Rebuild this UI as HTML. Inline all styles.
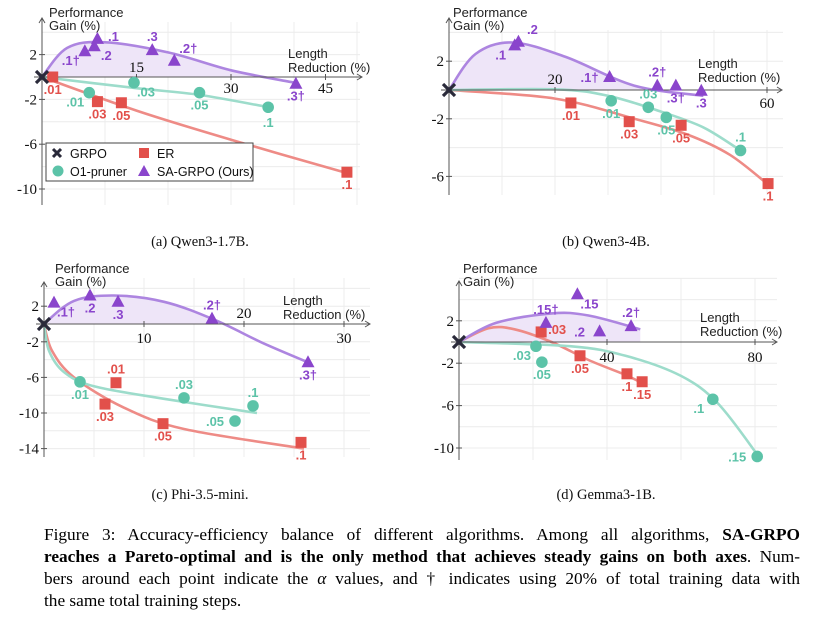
<!DOCTYPE html>
<html><head><meta charset="utf-8">
<style>
html,body{margin:0;padding:0;background:#fff;width:813px;height:621px;overflow:hidden}
svg text{font-family:"Liberation Sans",sans-serif}
.cap{position:absolute;left:44px;width:756px;font-family:"Liberation Serif",serif;font-size:17.3px;line-height:22px;text-align:justify;text-align-last:justify;white-space:nowrap}
</style></head><body>
<svg id="fig" width="813" height="621" style="position:absolute;left:0;top:0"></svg>
<div class="cap" style="top:524px">Figure 3: Accuracy-efficiency balance of different algorithms. Among all algorithms, <b>SA-GRPO</b></div>
<div class="cap" style="top:546px"><b>reaches a Pareto-optimal and is the only method that achieves steady gains on both axes</b>. Num-</div>
<div class="cap" style="top:568px">bers around each point indicate the <i>α</i> values, and † indicates using 20% of total training data with</div>
<div class="cap" style="top:590px;text-align-last:left">the same total training steps.</div>
<script>
// ---------- Panel A: Qwen3-1.7B ----------
const aErX=[1.7,8.8,12.6,48.4], aErY=[0,-2.2,-2.3,-8.5], aErL=[".01",".03",".05",".1"], aErP=["b","b","b","b"];
const aO1X=[7.5,14.6,25,35.9], aO1Y=[-1.4,-0.5,-1.4,-2.7], aO1L=[".01",".03",".05",".1"], aO1P=["bl","br","b","b2"];
const aSaX=[6.8,8.3,8.8,17.5,21,40.3], aSaY=[2.3,2.75,3.4,2.4,1.45,-0.6], aSaL=[".1†",".2",".1",".3",".2†",".3†"], aSaP=["bl","br","r","t","tr","b"];
const aSaCX=[0,4,10,20,30,40], aSaCY=[0,2.6,3.1,2.2,0.6,-0.5];
const aErCX=[0,15,30,48.5], aErCY=[0,-3,-5.6,-8.6];
const aO1CX=[0,15,25,36], aO1CY=[0,-1,-1.6,-2.7];
const aXT=[15,30,45], aYT=[2,-2,-6,-10];
// ---------- Panel B: Qwen3-4B ----------
const bErX=[23,34,43.8,60.2], bErY=[-0.9,-2.2,-2.45,-6.5], bErL=[".01",".03",".05",".1"], bErP=["b","b","b","b"];
const bO1X=[30.6,37.6,41,55], bO1Y=[-0.75,-1.2,-1.9,-4.2], bO1L=[".01",".03",".05",".1"], bO1P=["b","t","b","t"];
const bSaX=[12.4,13.1,30.3,39.3,42.8,47.6], bSaY=[3.1,3.35,0.9,0.3,0.3,-0.05], bSaL=[".1",".2",".1†",".2†",".3†",".3"], bSaP=["bl","tr","l","t","b","b"];
const bSaCX=[0,5,12,22,35,48], bSaCY=[0,2.5,3.3,2.3,0.3,-0.4];
const bErCX=[0,20,35,45,53,60], bErCY=[0,-0.6,-2,-3.1,-4.5,-6.5];
const bO1CX=[0,20,30,40,48,55], bO1CY=[0,0.05,-0.4,-1.5,-2.6,-4.2];
const bXT=[20,60], bYT=[2,-2,-6];
// ---------- Panel C: Phi-3.5-mini ----------
const cErX=[7.2,6.1,11.9,25.7], cErY=[-6.6,-9,-11.2,-13.3], cErL=[".01",".03",".05",".1"], cErP=["t","b","b","b"];
const cO1X=[3.6,14,19.1,20.9], cO1Y=[-6.5,-8.3,-10.9,-9.2], cO1L=[".01",".03",".05",".1"], cO1P=["b","t","l","t"];
const cSaX=[1,4.6,7.4,16.8,26.4], cSaY=[2.4,3.2,2.5,0.6,-4.3], cSaL=[".1†",".2",".3",".2†",".3†"], cSaP=["br","b","b","t","b"];
const cSaCX=[0,3,7,12,17,22,26.6], cSaCY=[0,2.6,3.2,2.5,0.5,-2.2,-4.4];
const cErCX=[0,0.8,3,8,14,26], cErCY=[0,-3,-6,-9.4,-11.8,-14];
const cO1CX=[0,0.5,2,5,12,21.3], cO1CY=[0,-3,-5.4,-7,-8.4,-10];
const cXT=[10,20,30], cYT=[2,-2,-6,-10,-14];
// ---------- Panel D: Gemma3-1B ----------
const dErX=[22.2,32.7,45.4,49.5], dErY=[0.95,-1.3,-3,-3.75], dErL=[".03",".05",".1",".15"], dErP=["r","b","b","b"];
const dO1X=[20.8,22.4,68.6,80.6], dO1Y=[-0.4,-1.9,-5.4,-10.8], dO1L=[".03",".05",".1",".15"], dO1P=["bl","b","bl","l"];
const dSaX=[23.5,32,38,46.5], dSaY=[1.8,4.5,1,1.5], dSaL=[".15†",".15",".2",".2†"], dSaP=["t","br","l","t"];
const dSaCX=[0,10,25,35,49], dSaCY=[0,1.8,2.7,2.5,1.2];
const dErCX=[0,8,15,25,35,45,49], dErCY=[0,1.3,1.2,0,-1.7,-3.1,-3.8];
const dO1CX=[0,30,45,60,70,81], dO1CY=[0,-0.4,-1.3,-3.2,-5.8,-10.8];
const dXT=[40,80], dYT=[2,-2,-6,-10];

const NS="http://www.w3.org/2000/svg";
const svg=document.getElementById('fig');
const PUR="#8a45cc", PURL="#ad85e0", TEA="#5cc3a8", TEAL="#9ddccb", RED="#e2504b", REDL="#ee8b86";
function el(tag,attrs,parent){const e=document.createElementNS(NS,tag);for(const k in attrs)e.setAttribute(k,attrs[k]);(parent||svg).appendChild(e);return e;}
function smooth(pts){let d="M"+pts[0][0]+","+pts[0][1];for(let i=0;i<pts.length-1;i++){const p0=pts[Math.max(0,i-1)],p1=pts[i],p2=pts[i+1],p3=pts[Math.min(pts.length-1,i+2)];const c1=[p1[0]+(p2[0]-p0[0])/6,p1[1]+(p2[1]-p0[1])/6],c2=[p2[0]-(p3[0]-p1[0])/6,p2[1]-(p3[1]-p1[1])/6];d+=" C"+c1[0].toFixed(1)+","+c1[1].toFixed(1)+" "+c2[0].toFixed(1)+","+c2[1].toFixed(1)+" "+p2[0].toFixed(1)+","+p2[1].toFixed(1);}return d;}
const OFF={b:[0,17],b2:[0,20],t:[0,-9],l:[-20,5],r:[16,2],bl:[-14,14],br:[12,14],tl:[-12,-8],tr:[14,-8]};
let clipN=0;
function panel(P){
  const g=el('g',{});
  
  
  const X=v=>P.ox+v*P.sx, Y=v=>P.oy-v*P.sy;
  for(let v=P.gx;X(v)<=P.gR;v+=P.gx){const l=el('line',{x1:X(v),x2:X(v),y1:P.gT,y2:P.gB,stroke:"#ececec","stroke-width":1},g);}
  for(let v=Math.ceil(P.yMin/P.gy)*P.gy;Y(v)>=P.gT;v+=P.gy){if(v===0)continue;if(Y(v)>P.gB)continue;const l=el('line',{x1:P.ox,x2:P.gR,y1:Y(v),y2:Y(v),stroke:"#ececec","stroke-width":1},g);}
  const cid="clip"+(clipN++);
  const cp=el('clipPath',{id:cid},g);el('rect',{x:P.ox,y:0,width:800,height:P.oy},cp);
  const sa=P.saCX.map((x,i)=>[X(x),Y(P.saCY[i])]);
  const f=el('path',{d:smooth(sa)+" L"+X(P.saCX[P.saCX.length-1])+","+P.oy+" Z",fill:"#eee5f8",stroke:"none","clip-path":"url(#"+cid+")"},g);
  
  const curves=[[P.erCX,P.erCY,REDL,'er-curve'],[P.o1CX,P.o1CY,TEAL,'o1-pruner-curve'],[P.saCX,P.saCY,PURL,'sa-grpo-curve']];
  for(const [cx,cy,col,nm] of curves){const p=el('path',{d:smooth(cx.map((x,i)=>[X(x),Y(cy[i])])),fill:"none",stroke:col,"stroke-width":2.6},g);}
  const xa=el('line',{x1:P.ox-8,x2:P.xEnd,y1:P.oy,y2:P.oy,stroke:"#555","stroke-width":1},g);
  el('path',{d:`M${P.xEnd-5},${P.oy-3} L${P.xEnd},${P.oy} L${P.xEnd-5},${P.oy+3}`,fill:"none",stroke:"#555"},g);
  const ya=el('line',{x1:P.ox,x2:P.ox,y1:P.yBot,y2:P.yTop,stroke:"#555","stroke-width":1},g);
  el('path',{d:`M${P.ox-3},${P.yTop+5} L${P.ox},${P.yTop} L${P.ox+3},${P.yTop+5}`,fill:"none",stroke:"#555"},g);
  P.xt.forEach((v,i)=>{el('line',{x1:X(v),x2:X(v),y1:P.oy-3,y2:P.oy+3,stroke:"#555"},g);const t=el('text',{x:X(v),y:P.oy+P.xtDy[i],"text-anchor":"middle","font-size":15,fill:"#111"},g);t.textContent=v;t.style.fontFamily='"Liberation Serif",serif';});
  P.yt.forEach(v=>{el('line',{x1:P.ox-3,x2:P.ox+3,y1:Y(v),y2:Y(v),stroke:"#555"},g);const t=el('text',{x:P.ox-5,y:Y(v)+5,"text-anchor":"end","font-size":15,fill:"#111"},g);t.textContent=v;t.style.fontFamily='"Liberation Serif",serif';});
  [["Performance",P.ytX,P.ytY],["Gain (%)",P.ytX,P.ytY+13]].forEach(([s,x,y])=>{const t=el('text',{x:x,y:y,"font-size":13,fill:"#222"},g);t.textContent=s;});
  [["Length",P.xtX,P.xtY],["Reduction (%)",P.xtX,P.xtY+14]].forEach(([s,x,y])=>{const t=el('text',{x:x,y:y,"font-size":13,fill:"#222"},g);t.textContent=s;});
  function lbl(x,y,s,pos,col){const o=OFF[pos];const t=el('text',{x:x+o[0],y:y+o[1],"text-anchor":"middle","font-size":13,"font-weight":"bold",fill:col},g);t.textContent=s;}
  P.erX.forEach((v,i)=>{const x=X(v),y=Y(P.erY[i]);const r=el('rect',{x:x-5.5,y:y-5.5,width:11,height:11,fill:RED},g);lbl(x,y,P.erL[i],P.erP[i],RED);});
  P.o1X.forEach((v,i)=>{const x=X(v),y=Y(P.o1Y[i]);const c=el('circle',{cx:x,cy:y,r:5.8,fill:TEA},g);lbl(x,y,P.o1L[i],P.o1P[i],TEA);});
  P.saX.forEach((v,i)=>{const x=X(v),y=Y(P.saY[i]);const p=el('path',{d:`M${x},${y-7} L${x+6.5},${y+5} L${x-6.5},${y+5} Z`,fill:PUR},g);lbl(x,y,P.saL[i],P.saP[i],PUR);});
  const gx=el('path',{d:`M${P.ox-6},${P.oy-6} L${P.ox+6},${P.oy+6} M${P.ox+6},${P.oy-6} L${P.ox-6},${P.oy+6}`,stroke:"#2a2a3a","stroke-width":3.2},g);
  
  const cap=el('text',{x:P.capX,y:P.capY,"text-anchor":"middle","font-size":14.5,fill:"#111"},g);cap.textContent=P.cap;cap.style.fontFamily='"Liberation Serif",serif';
  
}
panel({name:'panel-qwen3-1.7b',ox:42,oy:77,sx:6.3,sy:11.2,gx:10,gy:2,gR:360,gT:22,gB:205,yMin:-11,xEnd:362,yTop:18,yBot:205,
 xt:aXT,xtDy:[-5,16,16],yt:aYT,ytX:49,ytY:17,xtX:288,xtY:58,
 erX:aErX,erY:aErY,erL:aErL,erP:aErP,o1X:aO1X,o1Y:aO1Y,o1L:aO1L,o1P:aO1P,saX:aSaX,saY:aSaY,saL:aSaL,saP:aSaP,
 saCX:aSaCX,saCY:aSaCY,erCX:aErCX,erCY:aErCY,o1CX:aO1CX,o1CY:aO1CY,cap:"(a) Qwen3-1.7B.",capX:200,capY:246});
panel({name:'panel-qwen3-4b',ox:449,oy:90,sx:5.3,sy:14.4,gx:10,gy:2,gR:783,gT:30,gB:195,yMin:-7,xEnd:782,yTop:18,yBot:195,
 xt:bXT,xtDy:[-6,18],yt:bYT,ytX:453,ytY:17,xtX:698,xtY:68,
 erX:bErX,erY:bErY,erL:bErL,erP:bErP,o1X:bO1X,o1Y:bO1Y,o1L:bO1L,o1P:bO1P,saX:bSaX,saY:bSaY,saL:bSaL,saP:bSaP,
 saCX:bSaCX,saCY:bSaCY,erCX:bErCX,erCY:bErCY,o1CX:bO1CX,o1CY:bO1CY,cap:"(b) Qwen3-4B.",capX:606,capY:246});
panel({name:'panel-phi-3.5-mini',ox:44,oy:324,sx:10,sy:8.9,gx:5,gy:2,gR:370,gT:278,gB:457,yMin:-15,xEnd:370,yTop:282,yBot:457,
 xt:cXT,xtDy:[19,-6,19],yt:cYT,ytX:55,ytY:273,xtX:283,xtY:305,
 erX:cErX,erY:cErY,erL:cErL,erP:cErP,o1X:cO1X,o1Y:cO1Y,o1L:cO1L,o1P:cO1P,saX:cSaX,saY:cSaY,saL:cSaL,saP:cSaP,
 saCX:cSaCX,saCY:cSaCY,erCX:cErCX,erCY:cErCY,o1CX:cO1CX,o1CY:cO1CY,cap:"(c) Phi-3.5-mini.",capX:200,capY:499});
panel({name:'panel-gemma3-1b',ox:459,oy:342,sx:3.7,sy:10.6,gx:20,gy:2,gR:777,gT:278,gB:460,yMin:-11,xEnd:777,yTop:281,yBot:460,
 xt:dXT,xtDy:[20,20],yt:dYT,ytX:463,ytY:273,xtX:700,xtY:322,
 erX:dErX,erY:dErY,erL:dErL,erP:dErP,o1X:dO1X,o1Y:dO1Y,o1L:dO1L,o1P:dO1P,saX:dSaX,saY:dSaY,saL:dSaL,saP:dSaP,
 saCX:dSaCX,saCY:dSaCY,erCX:dErCX,erCY:dErCY,o1CX:dO1CX,o1CY:dO1CY,cap:"(d) Gemma3-1B.",capX:606,capY:499});

const lg=el('g',{});


el('rect',{x:46,y:143,width:207,height:38,fill:"#fff",stroke:"#444","stroke-width":1},lg);
el('path',{d:"M53,149 L61,157 M61,149 L53,157",stroke:"#2a2a3a","stroke-width":3},lg);
el('rect',{x:139,y:148,width:10,height:10,fill:RED},lg);
el('circle',{cx:58,cy:171,r:5.5,fill:TEA},lg);
el('path',{d:"M144,165 L150,176 L138,176 Z",fill:PUR},lg);
[["GRPO",70,158,'legend-entry-grpo'],["ER",157,158,'legend-entry-er'],["O1-pruner",70,176,'legend-entry-o1-pruner'],["SA-GRPO (Ours)",157,176,'legend-entry-sa-grpo']].forEach(([s,x,y,n])=>{const t=el('text',{x:x,y:y,"font-size":12.5,fill:"#111"},lg);t.textContent=s;});
</script>
</body></html>
